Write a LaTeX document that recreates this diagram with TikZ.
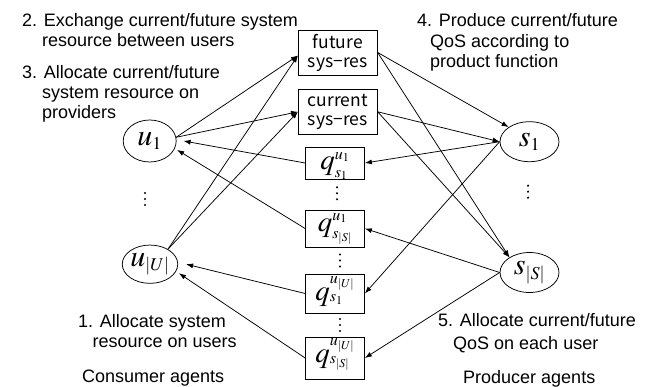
\documentclass[tikz,border=0pt]{standalone}
\usepackage{mathptmx}
\usepackage[no-math]{fontspec}
\newfontfamily\lab{Liberation Sans}
\newfontfamily\goth{Noto Sans CJK JP}
\usetikzlibrary{arrows.meta,shapes.geometric}
\DeclareMathSizes{29}{29}{16}{12}
\DeclareMathSizes{30}{30}{18}{13}
\tikzset{
  lbl/.style={anchor=base west, inner sep=0pt, font=\lab\fontsize{18}{20}\selectfont},
  resbox/.style={draw, line width=0.75pt, minimum width=79pt, minimum height=45pt, inner sep=0pt, align=center, font=\goth\fontsize{17.5}{19}\selectfont},
  qbox/.style={draw, line width=0.75pt, inner sep=0pt, text width=59pt, align=center, font=\fontsize{29}{30}\selectfont},
  agent/.style={draw, ellipse, line width=0.75pt, inner sep=0pt, font=\fontsize{30}{30}\selectfont},
  arr/.style={line width=0.75pt, -{Latex[length=7pt,width=5pt]}},
}
\begin{document}
\begin{tikzpicture}[x=1pt,y=-1pt]
\useasboundingbox (0,0) rectangle (652,387);
% resource boxes
\node[resbox] (fut) at (337.8,52.5) {future\\sys−res};
\node[resbox] (cur) at (337.8,111.8) {current\\sys−res};
% QoS boxes
\node[qbox, text height=23pt, text depth=9pt] (q11) at (335,163) {$q^{u_1}_{s_1}$};
\node[qbox, text height=21pt, text depth=16pt] (q1S) at (335,228.5) {$q^{u_1}_{s_{|S|}}$};
\node[qbox, text height=26pt, text depth=13pt] (qU1) at (335,293.5) {$q^{u_{|U|}}_{s_1}$};
\node[qbox, text height=25pt, text depth=17pt] (qUS) at (335,358) {$q^{u_{|U|}}_{s_{|S|}}$};
% agents
\node[agent, minimum width=53pt, minimum height=42pt] (u1) at (149.7,141) {$u_1$};
\node[agent, minimum width=53.4pt, minimum height=38.3pt] (uU) at (150,264.2) {$u_{|U|}$};
\node[agent, minimum width=59pt, minimum height=40pt] (s1) at (529.5,141.7) {$s_1$};
\node[agent, minimum width=59pt, minimum height=40pt] (sS) at (529.5,272.5) {$s_{|S|}$};
% vertical dots
\foreach \x/\y in {145/199, 528/191.7, 337/193.3, 340/260.5, 340/325}
  \foreach \d in {-6,0,6}
    \fill (\x,\y+\d) circle (1.2pt);
% labels
\node[lbl] (t2a) at (22,27) {2. Exchange current/future system};
\node[lbl] (t2b) at (42,47) {resource between users};
\node[lbl] (t3a) at (22,79) {3. Allocate current/future};
\node[lbl] (t3b) at (42,99) {system resource on};
\node[lbl] (t3c) at (42,119) {providers};
\node[lbl] (t4a) at (417,27) {4. Produce current/future};
\node[lbl] (t4b) at (430,47.5) {QoS according to};
\node[lbl] (t4c) at (430,68) {product function};
\node[lbl] (t1a) at (78,327) {1. Allocate system};
\node[lbl] (t1b) at (92.5,347) {resource on users};
\node[lbl] (t5a) at (438,326) {5. Allocate current/future};
\node[lbl] (t5b) at (453,349) {QoS on each user};
\node[lbl] (ca) at (82,382) {Consumer agents};
\node[lbl] (pa) at (463,383) {Producer agents};
% connectors
\draw[arr] (u1.8) -- ([yshift=-3pt]fut.west);
\draw[arr] (u1.8) -- (cur.west);
\draw[arr] (uU.40) -- ([yshift=-3pt]fut.west);
\draw[arr] (uU.40) -- (cur.west);
\draw[arr] (q11.west) -- ([xshift=7pt]u1.east);
\draw[arr] (q1S.west) -- ([xshift=3pt]u1.-20);
\draw[arr] (qU1.west) -- ([xshift=8pt]uU.east);
\draw[arr] (qUS.west) -- ([xshift=4pt]uU.-20);
\draw[arr] (fut.east) -- (s1.145);
\draw[arr] (fut.east) -- (sS.143);
\draw[arr] (cur.east) -- (s1.west);
\draw[arr] (cur.east) -- (sS.143);
\draw[arr] (s1.west) -- (q11.east);
\draw[arr] (s1.west) -- (qU1.east);
\draw[arr] (sS.west) -- (q1S.east);
\draw[arr] (sS.west) -- (qUS.east);
\end{tikzpicture}
\end{document}
